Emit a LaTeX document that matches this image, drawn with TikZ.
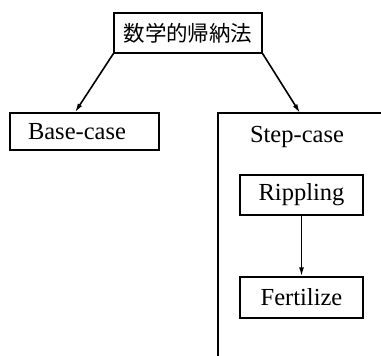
\documentclass[tikz,border=0pt]{standalone}
\usepackage{fontspec}
\setmainfont{Liberation Serif}
\newfontfamily\cjk{Noto Sans CJK JP}
\usetikzlibrary{arrows.meta}
\begin{document}
\begin{tikzpicture}[x=1pt,y=-1pt,
  box/.style={draw,line width=1.3pt,inner sep=0pt,font=\fontsize{24.5}{24.5}\selectfont},
  conn/.style={line width=1.6pt,-{Latex[length=9pt,width=5pt]}},
  frame/.style={line width=1.3pt}]
\useasboundingbox (0,0) rectangle (381,356);
\node[box,minimum width=148pt,minimum height=40pt,font=\cjk\fontsize{21.5}{21.5}\selectfont] (top) at (188,33) {数学的帰納法};
\node[box,minimum width=149pt,minimum height=37pt] (base) at (84.5,131.5) {\hspace*{-15pt}Base-case};
\coordinate (stl) at (218,113);
\coordinate (str) at (381,113);
\coordinate (stb) at (218,356);
\coordinate (stepin) at (300,113);
\draw[frame] (str) -- (stl) -- (stb);
\node[font=\fontsize{24.5}{24.5}\selectfont,inner sep=0pt] (steplabel) at (297,137) {Step-case};
\node[box,minimum width=123pt,minimum height=40pt] (rip) at (301.5,195) {Rippling};
\node[box,minimum width=123pt,minimum height=41pt] (fert) at (301.5,297.5) {Fertilize};
\draw[conn] (top.south west) -- ([xshift=-9.5pt]base.north);
\draw[conn] (top.south east) -- (stepin);
\draw[conn] (rip) -- (fert);
\end{tikzpicture}
\end{document}
